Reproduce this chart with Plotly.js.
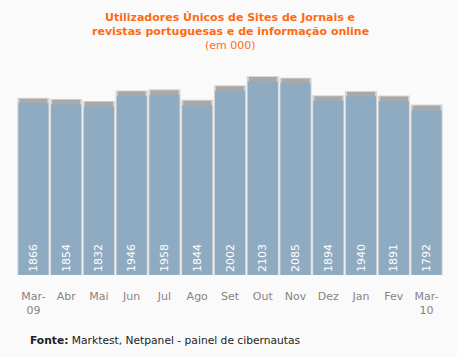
<!DOCTYPE html>
<html>
<head>
<meta charset="utf-8">
<script src="https://cdn.plot.ly/plotly-3.0.1.min.js"></script>
<style>html,body{margin:0;padding:0;background:#fafafa;}#chart{width:457px;height:357px;}</style>
</head>
<body>
<div id="chart"></div>
<script>
const months = ["Mar-<br>09","Abr","Mai","Jun","Jul","Ago","Set","Out","Nov","Dez","Jan","Fev","Mar-<br>10"];
const users = [1866,1854,1832,1946,1958,1844,2002,2103,2085,1894,1940,1891,1792];

const idx = months.map((_, i) => i);
const haloVals = users.map(v => v + 60);
const capVals = users.map(v => v + 50);

const halo = {
  type: 'bar', x: idx, y: haloVals, width: 0.98,
  marker: {color: '#d6d6d6', line: {width: 0}}, hoverinfo: 'skip', showlegend: false
};
const cap = {
  type: 'bar', x: idx, y: capVals, width: 0.86,
  marker: {color: '#a9a9a9', line: {width: 0}}, hoverinfo: 'skip', showlegend: false
};
const main = {
  type: 'bar', x: idx, y: users, width: 0.92,
  marker: {color: '#8fabc2', line: {width: 0}},
  text: users.map(String), textposition: 'inside', insidetextanchor: 'start',
  textangle: -90, textfont: {family: 'DejaVu Sans', size: 11, color: '#ffffff'},
  cliponaxis: false, showlegend: false
};

const L = 17, R = 14, T = 60, B = 82;
const PW = 457 - L - R, PH = 357 - T - B;

const layout = {
  width: 457, height: 357,
  margin: {l: L, r: R, t: T, b: B, pad: 0},
  paper_bgcolor: '#fafafa', plot_bgcolor: '#fafafa',
  barmode: 'overlay',
  showlegend: false,
  xaxis: {
    range: [-0.5, 12.5], tickmode: 'array', tickvals: idx, ticktext: months,
    showgrid: false, zeroline: false, showline: false, ticks: '',
    ticklabelstandoff: 13,
    tickfont: {family: 'DejaVu Sans', size: 11, color: '#8a8282'}
  },
  yaxis: {
    range: [0, PH / 0.092], visible: false, showgrid: false, zeroline: false
  },
  annotations: [
    {xref: 'paper', yref: 'paper', x: 0.5, y: 1 + (T - 18) / PH, xanchor: 'center', yanchor: 'middle',
     text: '<b>Utilizadores Únicos de Sites de Jornais e</b>', showarrow: false,
     font: {family: 'DejaVu Sans', size: 11, color: '#ff6a13'}},
    {xref: 'paper', yref: 'paper', x: 0.5, y: 1 + (T - 32) / PH, xanchor: 'center', yanchor: 'middle',
     text: '<b>revistas portuguesas e de informação online</b>', showarrow: false,
     font: {family: 'DejaVu Sans', size: 11, color: '#ff6a13'}},
    {xref: 'paper', yref: 'paper', x: 0.5, y: 1 + (T - 46) / PH, xanchor: 'center', yanchor: 'middle',
     text: '(em 000)', showarrow: false,
     font: {family: 'DejaVu Sans', size: 11, color: '#ff6a13'}},
    {xref: 'paper', yref: 'paper', x: (28 - L) / PW, y: (275 - 340) / PH, xanchor: 'left', yanchor: 'middle',
     text: '<b>Fonte:</b> Marktest, Netpanel - painel de cibernautas', showarrow: false,
     font: {family: 'DejaVu Sans', size: 10.7, color: '#222222'}}
  ]
};

Plotly.newPlot('chart', [halo, cap, main], layout, {displayModeBar: false, staticPlot: true});
</script>
</body>
</html>
